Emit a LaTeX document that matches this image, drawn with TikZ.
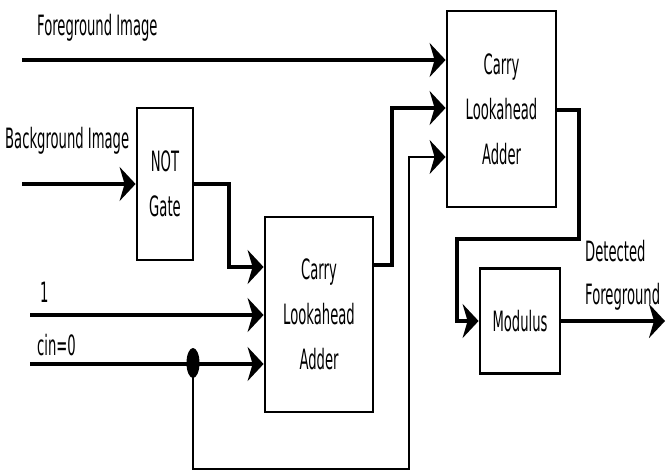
\documentclass[tikz,border=0pt]{standalone}
\usepackage{fontspec}
\newfontfamily\dgfont{DejaVu Sans}[FakeStretch=0.47]
\usepackage{tikz}
\usetikzlibrary{arrows.meta, positioning, shapes.geometric}

\begin{document}
\begin{tikzpicture}[
    blk/.style={draw, line width=2.8pt, fill=white,
                inner sep=0pt, align=center,
                font=\dgfont\fontsize{28}{45}\selectfont},
    lbl/.style={inner sep=0pt, anchor=base west,
                font=\dgfont\fontsize{28}{43}\selectfont},
    arr/.style={-{Stealth[length=16pt, width=34pt, inset=5pt]},
                line width=3.6pt},
    fbk/.style={line width=2.2pt},
    jdot/.style={ellipse, fill, inner sep=0pt,
                 minimum width=13pt, minimum height=30pt},
    x=1pt, y=-1pt
  ]
  \useasboundingbox (0,0) rectangle (667,474);

  \node[blk, minimum width=56pt, minimum height=152pt] (notg) at (165,184) {NOT\\Gate};
  \node[blk, minimum width=108pt, minimum height=195pt] (claA) at (319,314.5) {Carry\\Lookahead\\Adder};
  \node[blk, minimum width=109pt, minimum height=196pt] (claB) at (501.5,109) {Carry\\Lookahead\\Adder};
  \node[blk, minimum width=80pt, minimum height=105pt] (modu) at (520,321) {Modulus};

  % inputs
  \coordinate (fgin) at (22,60);
  \coordinate (bgin) at (22,184);
  \coordinate (one) at (30,315);
  \coordinate (cin) at (30,364);
  \coordinate (det) at (665,321);
  \node[jdot] (jn) at (193,363) {};

  \draw[arr] (fgin) -- (fgin -| claB.west);
  \draw[arr] (bgin) -- (notg.west);
  \draw[arr] (one) -- (one -| claA.west);
  \draw[arr] (cin) -- (cin -| claA.west);
  \draw[arr] (notg.east) -| (229,267) -- (claA.west |- 0,267);
  \draw[arr] (claA.east |- 0,265) -| (392,108) -- (claB.west |- 0,108);
  \draw[arr, fbk] (jn.center) |- (409,469) |- (claB.west |- 0,157);
  \draw[arr] (claB.east |- 0,110) -| (579,239) -| (457,321) -- (modu.west);
  \draw[arr] (modu.east) -- (det);

  % labels
  \node[lbl] (fglbl) at (37,35) {Foreground Image};
  \node[lbl] (bglbl) at (5,148) {Background Image};
  \node[lbl] (onelbl) at (40,302) {1};
  \node[lbl] (cinlbl) at (37,355) {cin=0};
  \node[lbl, align=left, anchor=north west] (detlbl) at (585,240) {Detected\\Foreground};
\end{tikzpicture}
\end{document}
